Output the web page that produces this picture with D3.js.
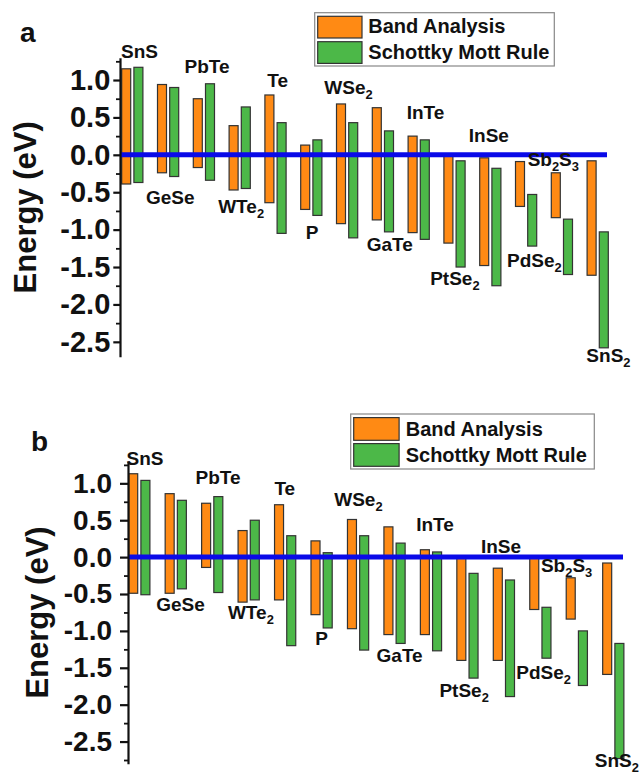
<!DOCTYPE html>
<html><head><meta charset="utf-8">
<script src="https://cdn.jsdelivr.net/npm/d3@7"></script>
<style>
body{margin:0;background:#fff}
svg{display:block}
text{font-family:"Liberation Sans",Arial,Helvetica,sans-serif;font-weight:bold;fill:#111}
</style>
</head><body>
<svg id="chart" width="644" height="777"></svg>
<script>
// ---------- data ----------
const materials = ["SnS","GeSe","PbTe","WTe2","Te","P","WSe2","GaTe","InTe","PtSe2","InSe","PdSe2","Sb2S3","SnS2"];
const labelText = ["SnS","GeSe","PbTe","WTe_2","Te","P","WSe_2","GaTe","InTe","PtSe_2","InSe","PdSe_2","Sb_2S_3","SnS_2"];
const seriesNames = ["Band Analysis","Schottky Mott Rule"];
const yTickValues = [1.0,0.5,0.0,-0.5,-1.0,-1.5,-2.0,-2.5];
const yMinorValues = [1.25,0.75,0.25,-0.25,-0.75,-1.25,-1.75,-2.25,-2.75];

// panel a (top, bottom of each bar, eV)
const bandTopA = [1.15,0.94,0.75,0.39,0.80,0.13,0.68,0.63,0.25,0.00,-0.04,-0.09,-0.24,-0.08];
const bandBotA = [-0.39,-0.24,-0.17,-0.47,-0.64,-0.73,-0.92,-0.87,-1.04,-1.18,-1.48,-0.69,-0.84,-1.61];
const smTopA   = [1.17,0.90,0.95,0.64,0.43,0.20,0.43,0.32,0.20,-0.08,-0.18,-0.53,-0.86,-1.03];
const smBotA   = [-0.37,-0.29,-0.34,-0.45,-1.05,-0.81,-1.11,-1.03,-1.13,-1.50,-1.75,-1.22,-1.60,-2.58];
// label anchors (energy of baseline, shift in category units)
const labelEA  = [1.294,-0.658,1.098,-0.783,0.902,-1.13,0.813,-1.282,0.479,-1.741,0.175,-1.496,-0.146,-2.766];
const labelDxA = [0.20,0.06,0.09,0.04,0.06,0.02,0.04,0.19,0.19,0.01,-0.04,0.23,-0.24,0.30];

// panel b
const bandTopB = [1.13,0.86,0.73,0.36,0.71,0.22,0.51,0.41,0.10,0.00,-0.15,0.00,-0.28,-0.08];
const bandBotB = [-0.49,-0.49,-0.14,-0.61,-0.58,-0.78,-0.97,-1.05,-1.05,-1.40,-1.40,-0.71,-0.84,-1.59];
const smTopB   = [1.04,0.77,0.82,0.50,0.29,0.06,0.29,0.19,0.07,-0.22,-0.31,-0.68,-1.00,-1.17];
const smBotB   = [-0.51,-0.43,-0.48,-0.58,-1.20,-0.96,-1.26,-1.17,-1.27,-1.64,-1.89,-1.37,-1.74,-2.73];
const labelEB  = [1.248,-0.73,0.986,-0.84,0.837,-1.19,0.692,-1.417,0.354,-1.89,0.06,-1.656,-0.198,-2.84];
const labelDxB = [0.155,0.13,0.16,0.06,-0.01,0.0,0.01,0.14,0.11,-0.09,-0.08,0.09,-0.28,0.10];

// ---------- drawing ----------
const svg = d3.select("#chart");
svg.append("rect").attr("width",644).attr("height",777).attr("fill","#fff");

const COLORS = ["#FF8A14","#4CB848"];
const fmt = d3.formatLocale({decimal:".",thousands:",",grouping:[3],currency:["$",""],minus:"-"}).format(".1f");

function addLabel(g, txt, x, y, size){
  const t = g.append("text").attr("x",x).attr("y",y).attr("text-anchor","middle").style("font-size",size+"px");
  const parts = txt.split(/_(\d)/);
  parts.forEach((p,i)=>{
    if(!p) return;
    if(i%2===1){
      t.append("tspan").text(p).style("font-size",(size*0.68)+"px").attr("dy",5);
    } else {
      const ts = t.append("tspan").text(p);
      if(i>0) ts.attr("dy",-5);
    }
  });
}

function panel(cfg){
  const g = svg.append("g");
  const y = d3.scaleLinear().domain(cfg.yDomain).range(cfg.yRange);
  const x = d3.scaleBand().domain(materials).range([cfg.xStart, cfg.xStart + cfg.step*materials.length]).padding(0);
  const xs = d3.scaleBand().domain(seriesNames).range([0, 21.2]).paddingInner(0.262).paddingOuter(0);

  const series = [
    {name:seriesNames[0], top:cfg.bandTop, bot:cfg.bandBot, color:COLORS[0]},
    {name:seriesNames[1], top:cfg.smTop, bot:cfg.smBot, color:COLORS[1]}
  ];

  series.forEach(s=>{
    g.append("g").selectAll("rect").data(materials).join("rect")
      .attr("x", (m)=>x(m)+xs(s.name))
      .attr("width", xs.bandwidth())
      .attr("y", (m,i)=>y(Math.max(s.top[i],s.bot[i])))
      .attr("height",(m,i)=>Math.abs(y(s.bot[i])-y(s.top[i])))
      .attr("fill", s.color)
      .attr("stroke","#333")
      .attr("stroke-width",1.2);
  });

  g.append("line")
    .attr("x1", cfg.axisX).attr("x2", cfg.lineEnd)
    .attr("y1", y(0)).attr("y2", y(0))
    .attr("stroke","#0a0ae8").attr("stroke-width",5);

  // minor ticks
  const minor = g.append("g").attr("transform",`translate(${cfg.axisX},0)`)
    .call(d3.axisLeft(y).tickValues(yMinorValues.filter(v=>v>=cfg.yDomain[0]&&v<=cfg.yDomain[1])).tickSize(4).tickSizeOuter(0).tickFormat(""));
  minor.select(".domain").remove();
  minor.selectAll("line").attr("stroke","#111").attr("stroke-width",1.8);

  const ax = g.append("g").attr("transform",`translate(${cfg.axisX},0)`)
    .call(d3.axisLeft(y).tickValues(yTickValues).tickSize(cfg.tickLen).tickSizeOuter(0).tickPadding(cfg.tickPad).tickFormat(fmt));
  ax.select(".domain").attr("stroke","#111").attr("stroke-width",2.2);
  ax.selectAll(".tick line").attr("stroke","#111").attr("stroke-width",2.2);
  ax.selectAll(".tick text").attr("fill","#111")
    .style("font-family",'"Liberation Sans",Arial,sans-serif').style("font-weight","bold")
    .style("font-size",cfg.tickFont+"px");

  // y title
  const yMid = (cfg.yRange[0]+cfg.yRange[1])/2;
  g.append("text").attr("transform",`translate(${cfg.titleX},${yMid}) rotate(-90)`)
    .attr("text-anchor","middle").style("font-size","31px").text("Energy (eV)");

  // material labels
  materials.forEach((m,i)=>{
    const cx = x(m) + 10.6 + cfg.labelDx[i]*cfg.step;
    addLabel(g, labelText[i], cx, y(cfg.labelE[i]), 19);
  });

  // panel letter
  g.append("text").attr("x",cfg.letterX).attr("y",cfg.letterY).style("font-size","28px").text(cfg.letter);

  // legend
  const L = cfg.legend;
  const lg = g.append("g");
  lg.append("rect").attr("x",L.x).attr("y",L.y).attr("width",L.w).attr("height",L.h)
    .attr("fill","#fff").attr("stroke","#888").attr("stroke-width",1.2);
  seriesNames.forEach((n,i)=>{
    lg.append("rect").attr("x",L.x+3).attr("y",L.y+3.6+i*L.row).attr("width",L.sw).attr("height",L.sh)
      .attr("fill",COLORS[i]).attr("stroke","#333").attr("stroke-width",1.2);
    lg.append("text").attr("x",L.x+L.tx).attr("y",L.y+L.b0+i*L.row).style("font-size","20px").text(n);
  });
}

panel({
  yDomain:[-2.70,1.297], yRange:[356.8,57.8], axisX:120, xStart:121.7, step:35.8, lineEnd:607,
  tickLen:6.7, tickPad:3, tickFont:29, titleX:36,
  bandTop:bandTopA, bandBot:bandBotA, smTop:smTopA, smBot:smBotA, labelE:labelEA, labelDx:labelDxA,
  letter:"a", letterX:20, letterY:42,
  legend:{x:314.7,y:12.7,w:239.6,h:53.3,sw:44.3,sh:21.7,row:25.4,tx:53.6,b0:20.6}
});
panel({
  yDomain:[-2.80,1.30], yRange:[763.7,461.2], axisX:128, xStart:128.7, step:36.46, lineEnd:623,
  tickLen:8, tickPad:8, tickFont:28, titleX:48,
  bandTop:bandTopB, bandBot:bandBotB, smTop:smTopB, smBot:smBotB, labelE:labelEB, labelDx:labelDxB,
  letter:"b", letterX:31, letterY:451,
  legend:{x:350.7,y:414,w:243.6,h:55,sw:45.4,sh:22.7,row:26,tx:55,b0:21.7}
});
</script>
</body></html>
